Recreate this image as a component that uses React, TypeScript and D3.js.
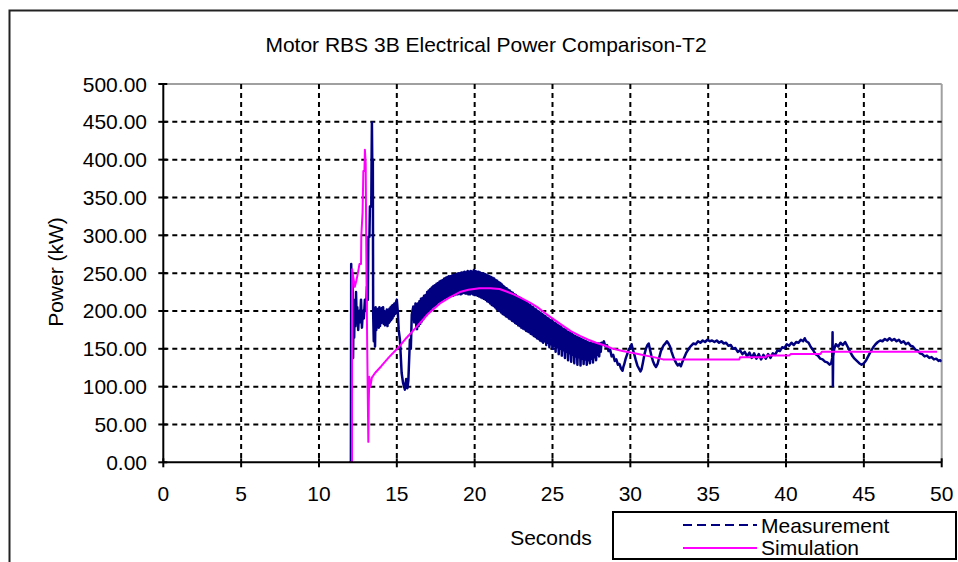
import React from 'react';
import * as d3 from 'd3';

const chartTitle = 'Motor RBS 3B Electrical Power Comparison-T2';
const xLabel = 'Seconds';
const yLabel = 'Power (kW)';
const seriesNames = ['Measurement', 'Simulation'];
const xTicks = [0, 5, 10, 15, 20, 25, 30, 35, 40, 45, 50];
const yTicks = [0, 50, 100, 150, 200, 250, 300, 350, 400, 450, 500];

// Measurement: [seconds, kW]
const measurement: [number, number][] = [
  [11.95, 0], [12.05, 0], [12.07, 262], [12.1, 200], [12.13, 150], [12.16, 240], [12.19, 138], [12.22, 205],
  [12.26, 165], [12.3, 215], [12.34, 180], [12.38, 225], [12.42, 190], [12.46, 205], [12.52, 175], [12.58, 200],
  [12.64, 185], [12.7, 215], [12.76, 178], [12.82, 200], [12.88, 190], [12.95, 215], [13.02, 200], [13.08, 232],
  [13.14, 215], [13.17, 298], [13.24, 298], [13.27, 338], [13.36, 338], [13.38, 402], [13.4, 449], [13.42, 402],
  [13.46, 400], [13.48, 197], [13.52, 160], [13.56, 200], [13.6, 153], [13.64, 205], [13.68, 175], [13.72, 200],
  [13.76, 182], [13.8, 203], [13.84, 178], [13.88, 205], [13.92, 180], [13.96, 198], [14.0, 184], [14.04, 204],
  [14.08, 186], [14.12, 205], [14.16, 183], [14.2, 200], [14.24, 181], [14.28, 199], [14.32, 186], [14.36, 202],
  [14.4, 180], [14.44, 198], [14.48, 184], [14.52, 203], [14.56, 186], [14.6, 205], [14.64, 188], [14.68, 207],
  [14.72, 190], [14.76, 208], [14.8, 193], [14.85, 210], [14.9, 196], [14.95, 212], [15.0, 215], [15.06, 200],
  [15.12, 175], [15.2, 162], [15.31, 118], [15.4, 105], [15.52, 96], [15.6, 110], [15.68, 98], [15.74, 108],
  [15.84, 162], [15.9, 150], [15.96, 195], [16.06, 206], [16.12, 185], [16.2, 210], [16.25, 180],
  [16.3, 176], [16.35, 210], [16.4, 180], [16.45, 213], [16.5, 183], [16.55, 216], [16.6, 186], [16.65, 217],
  [16.7, 189], [16.75, 220], [16.8, 192], [16.85, 221], [16.9, 195], [16.95, 225], [17.0, 198], [17.05, 227],
  [17.1, 200], [17.15, 229], [17.2, 203], [17.25, 231], [17.3, 205], [17.35, 233], [17.4, 207], [17.45, 234],
  [17.5, 208], [17.55, 236], [17.6, 210], [17.65, 237], [17.7, 212], [17.75, 239], [17.8, 213], [17.85, 240],
  [17.9, 214], [17.95, 241], [18.0, 216], [18.05, 243], [18.1, 217], [18.15, 244], [18.2, 218], [18.25, 245],
  [18.3, 218], [18.35, 246], [18.4, 219], [18.45, 246], [18.5, 220], [18.55, 247], [18.6, 220], [18.65, 248],
  [18.7, 221], [18.75, 248], [18.8, 222], [18.85, 249], [18.9, 222], [18.95, 250], [19.0, 223], [19.05, 250],
  [19.1, 222], [19.15, 251], [19.2, 223], [19.25, 251], [19.3, 224], [19.35, 252], [19.4, 223], [19.45, 251],
  [19.5, 223], [19.55, 253], [19.6, 222], [19.65, 252], [19.7, 222], [19.75, 253], [19.8, 223], [19.85, 252],
  [19.9, 222], [19.95, 254], [20.0, 221], [20.05, 253], [20.1, 221], [20.15, 252], [20.2, 220], [20.25, 252],
  [20.3, 219], [20.35, 251], [20.4, 218], [20.45, 250], [20.5, 217], [20.55, 250], [20.6, 216], [20.65, 249],
  [20.7, 215], [20.75, 248], [20.8, 213], [20.85, 247], [20.9, 212], [20.95, 246], [21.0, 210], [21.05, 245],
  [21.1, 208], [21.15, 244], [21.2, 207], [21.25, 243], [21.3, 205], [21.35, 241], [21.4, 203], [21.45, 240],
  [21.5, 201], [21.55, 238], [21.6, 200], [21.65, 237], [21.7, 198], [21.75, 235], [21.8, 196], [21.85, 233],
  [21.9, 195], [21.95, 231], [22.0, 193], [22.05, 230], [22.1, 192], [22.15, 228], [22.2, 190], [22.25, 227],
  [22.3, 189], [22.35, 225], [22.4, 187], [22.45, 224], [22.5, 186], [22.55, 222], [22.6, 184], [22.65, 221],
  [22.7, 183], [22.75, 219], [22.8, 181], [22.85, 218], [22.9, 180], [22.95, 217], [23.0, 178], [23.05, 215],
  [23.1, 177], [23.15, 214], [23.2, 176], [23.25, 212], [23.3, 174], [23.35, 211], [23.4, 173], [23.45, 209],
  [23.5, 172], [23.55, 208], [23.6, 170], [23.65, 206], [23.7, 169], [23.75, 205], [23.8, 167], [23.85, 203],
  [23.9, 166], [23.95, 202], [24.0, 164], [24.05, 200], [24.1, 163], [24.15, 199], [24.2, 161], [24.25, 197],
  [24.3, 160], [24.35, 196], [24.4, 158], [24.45, 194], [24.5, 160], [24.55, 193], [24.6, 155], [24.65, 191],
  [24.7, 158], [24.75, 190], [24.8, 152], [24.85, 188], [24.9, 156], [24.95, 187], [25.0, 150], [25.05, 185],
  [25.1, 154], [25.15, 184], [25.2, 146], [25.25, 183], [25.3, 152], [25.35, 181], [25.4, 143], [25.45, 180],
  [25.5, 150], [25.55, 179], [25.6, 141], [25.65, 177], [25.7, 148], [25.75, 176], [25.8, 138], [25.85, 175],
  [25.9, 146], [25.95, 173], [26.0, 135], [26.05, 172], [26.1, 144], [26.15, 171], [26.2, 133], [26.25, 170],
  [26.3, 142], [26.35, 168], [26.4, 131], [26.45, 167], [26.5, 140], [26.55, 166], [26.6, 129], [26.65, 165],
  [26.7, 139], [26.75, 164], [26.8, 128], [26.85, 163], [26.9, 137], [26.95, 162], [27.0, 130], [27.05, 161],
  [27.1, 136], [27.15, 160], [27.2, 129], [27.25, 159], [27.3, 135], [27.35, 158], [27.4, 131], [27.45, 158],
  [27.5, 137], [27.55, 157], [27.6, 132], [27.65, 157], [27.7, 139], [27.75, 157], [27.8, 135], [27.85, 157],
  [27.9, 142], [27.95, 157], [28.0, 140], [28.05, 157], [28.1, 146], [28.15, 158],
  [28.2, 156], [28.3, 160], [28.4, 153], [28.5, 155], [28.6, 147], [28.7, 149], [28.8, 140], [28.9, 142],
  [29.0, 134], [29.1, 136], [29.2, 129], [29.3, 130], [29.4, 124], [29.5, 121], [29.55, 126], [29.6, 129],
  [29.7, 137], [29.8, 143], [29.9, 149], [30.0, 152], [30.08, 156], [30.15, 150], [30.25, 143], [30.35, 135],
  [30.45, 128], [30.55, 124], [30.65, 120], [30.72, 123], [30.8, 131], [30.9, 142], [31.0, 150], [31.1, 155],
  [31.18, 157], [31.25, 150], [31.35, 141], [31.45, 134], [31.55, 129], [31.65, 126], [31.75, 130], [31.85, 138],
  [31.95, 146], [32.05, 151], [32.15, 155], [32.25, 157], [32.35, 160], [32.45, 157], [32.55, 153], [32.65, 146],
  [32.75, 140], [32.85, 135], [32.95, 131], [33.05, 128], [33.15, 130], [33.25, 127], [33.35, 133], [33.45, 138],
  [33.6, 145], [33.75, 150], [33.9, 154], [34.05, 157], [34.2, 156], [34.35, 160], [34.5, 158], [34.65, 161],
  [34.8, 159], [34.95, 162], [35.1, 160], [35.25, 161], [35.4, 159], [35.55, 161], [35.7, 158], [35.85, 160],
  [36.0, 157], [36.15, 158], [36.3, 154], [36.45, 155], [36.6, 150], [36.75, 151], [36.9, 146], [37.05, 148],
  [37.2, 143], [37.35, 146], [37.5, 140], [37.65, 145], [37.8, 138], [37.95, 144], [38.1, 137], [38.25, 143],
  [38.4, 136], [38.55, 142], [38.7, 137], [38.85, 143], [39.0, 138], [39.15, 144], [39.3, 142], [39.45, 148],
  [39.6, 147], [39.75, 152], [39.9, 151], [40.05, 156], [40.2, 154], [40.35, 158], [40.5, 155], [40.65, 159],
  [40.8, 158], [40.95, 162], [41.1, 160], [41.2, 164], [41.3, 160], [41.45, 158], [41.6, 152], [41.75, 148],
  [41.9, 143], [42.05, 141], [42.2, 137], [42.35, 136], [42.5, 133], [42.65, 132], [42.8, 129], [42.9, 131],
  [42.97, 138], [42.99, 172], [43.01, 101], [43.03, 140], [43.1, 150], [43.2, 156], [43.35, 153], [43.5, 158],
  [43.65, 155], [43.8, 159], [43.95, 153], [44.1, 147], [44.25, 141], [44.4, 137], [44.55, 134], [44.7, 131],
  [44.85, 129], [45.0, 131], [45.15, 135], [45.3, 141], [45.45, 147], [45.6, 152], [45.75, 156], [45.9, 159],
  [46.05, 161], [46.2, 160], [46.35, 163], [46.5, 161], [46.65, 164], [46.8, 161], [46.95, 163], [47.1, 160],
  [47.25, 162], [47.4, 158], [47.55, 160], [47.7, 156], [47.85, 158], [48.0, 154], [48.15, 153], [48.3, 149],
  [48.45, 148], [48.6, 144], [48.75, 143], [48.9, 140], [49.05, 141], [49.2, 138], [49.35, 139], [49.5, 136],
  [49.65, 137], [49.8, 134], [49.9, 135], [50.0, 133],
];

// Simulation: [seconds, kW]
const simulation: [number, number][] = [
  [12.0, 0], [12.12, 0], [12.13, 255], [12.2, 245], [12.3, 232], [12.4, 240], [12.5, 250], [12.6, 262],
  [12.7, 262], [12.72, 300], [12.8, 330], [12.85, 385], [12.92, 385], [12.95, 413], [13.0, 395], [13.05, 250],
  [13.1, 150], [13.17, 27], [13.2, 80], [13.23, 113], [13.3, 100], [13.4, 112], [13.6, 118], [14.0, 127],
  [14.5, 139], [15.07, 151], [15.6, 164], [16.27, 179], [17.0, 196], [17.77, 210], [18.4, 218], [19.05, 225],
  [19.6, 228], [20.3, 230], [21.0, 230], [21.6, 229], [22.0, 226], [22.5, 222], [23.0, 217], [23.55, 211],
  [24.1, 204], [24.6, 196], [25.15, 188], [25.7, 180], [26.2, 173], [26.76, 167], [27.3, 162], [27.8, 158],
  [28.4, 154], [28.9, 150], [29.5, 147], [30.0, 145], [30.5, 143], [31.0, 141], [31.5, 139], [32.1, 136],
  [33.2, 136], [37.0, 136], [37.05, 139], [38.7, 139], [38.75, 141], [40.2, 141], [40.3, 143], [42.2, 143],
  [42.3, 146], [49.7, 146],
];

const FONT = "Arial, 'Liberation Sans', sans-serif";

export default function App() {
  const W = 958;
  const H = 562;
  const left = 163.3;
  const right = 941.7;
  const top = 84;
  const bottom = 462.3;
  const x = d3.scaleLinear().domain([0, 50]).range([left, right]);
  const y = d3.scaleLinear().domain([0, 500]).range([bottom, top]);
  const line = d3.line<[number, number]>().x((d) => x(d[0])).y((d) => y(d[1]));
  const fs = 21;

  return (
    <svg
      width={W}
      height={H}
      style={{ position: 'absolute', left: 0, top: 0, background: '#fff' }}
      fontFamily={FONT}
    >
      <defs>
        <clipPath id="plotClip">
          <rect x={left} y={top - 2} width={right - left} height={bottom - top + 2} />
        </clipPath>
      </defs>
      <rect x={0} y={0} width={W} height={H} fill="#fff" />
      {/* outer chart border */}
      <rect x={9.5} y={10.5} width={1000} height={700} fill="none" stroke="#222" strokeWidth={2} />

      <text x={486} y={44} textAnchor="middle" dominantBaseline="central" fontSize={fs} fill="#000">
        {chartTitle}
      </text>

      {/* plot area border (gray top/right) */}
      <line x1={left} y1={top} x2={right} y2={top} stroke="#a0a0a0" strokeWidth={2} />
      <line x1={right} y1={top} x2={right} y2={bottom} stroke="#a0a0a0" strokeWidth={2} />

      {/* grid */}
      {yTicks.filter((v) => v > 0 && v < 500).map((v) => (
        <line key={'gy' + v} x1={left} x2={right} y1={y(v)} y2={y(v)} stroke="#000" strokeWidth={2} strokeDasharray="5,4" />
      ))}
      {xTicks.filter((v) => v > 0 && v < 50).map((v) => (
        <line key={'gx' + v} x1={x(v)} x2={x(v)} y1={top} y2={bottom} stroke="#000" strokeWidth={2} strokeDasharray="5,4" />
      ))}

      {/* series */}
      <g clipPath="url(#plotClip)">
        <path d={line(measurement) || ''} fill="none" stroke="#000080" strokeWidth={2.5} strokeLinejoin="round" />
        <path d={line(simulation) || ''} fill="none" stroke="#FF00FF" strokeWidth={2} strokeLinejoin="round" />
      </g>

      {/* axes */}
      <line x1={left} y1={top} x2={left} y2={bottom} stroke="#000" strokeWidth={2} />
      <line x1={left} y1={bottom} x2={right} y2={bottom} stroke="#000" strokeWidth={2} />
      {yTicks.map((v) => (
        <g key={'yt' + v}>
          <line x1={left - 5} x2={left + 4} y1={y(v)} y2={y(v)} stroke="#000" strokeWidth={2} />
          <text x={147} y={y(v)} textAnchor="end" dominantBaseline="central" fontSize={fs} fill="#000">
            {d3.format('.2f')(v)}
          </text>
        </g>
      ))}
      {xTicks.map((v) => (
        <g key={'xt' + v}>
          <line x1={x(v)} x2={x(v)} y1={bottom - 4} y2={bottom + 5} stroke="#000" strokeWidth={2} />
          <text x={x(v)} y={493} textAnchor="middle" dominantBaseline="central" fontSize={fs} fill="#000">
            {v}
          </text>
        </g>
      ))}

      <text
        transform="translate(55,272) rotate(-90)"
        textAnchor="middle"
        dominantBaseline="central"
        fontSize={fs}
        fill="#000"
      >
        {yLabel}
      </text>
      <text x={551} y={537} textAnchor="middle" dominantBaseline="central" fontSize={fs} fill="#000">
        {xLabel}
      </text>

      {/* legend */}
      <rect x={613} y={512} width={343} height={47} fill="#fff" stroke="#000" strokeWidth={2} />
      <line x1={683} x2={757} y1={525} y2={525} stroke="#000080" strokeWidth={2} strokeDasharray="9,5" />
      <text x={761} y={525} dominantBaseline="central" fontSize={fs} fill="#000">{seriesNames[0]}</text>
      <line x1={683} x2={757} y1={548} y2={548} stroke="#FF00FF" strokeWidth={2} />
      <text x={761} y={547} dominantBaseline="central" fontSize={fs} fill="#000">{seriesNames[1]}</text>
    </svg>
  );
}
